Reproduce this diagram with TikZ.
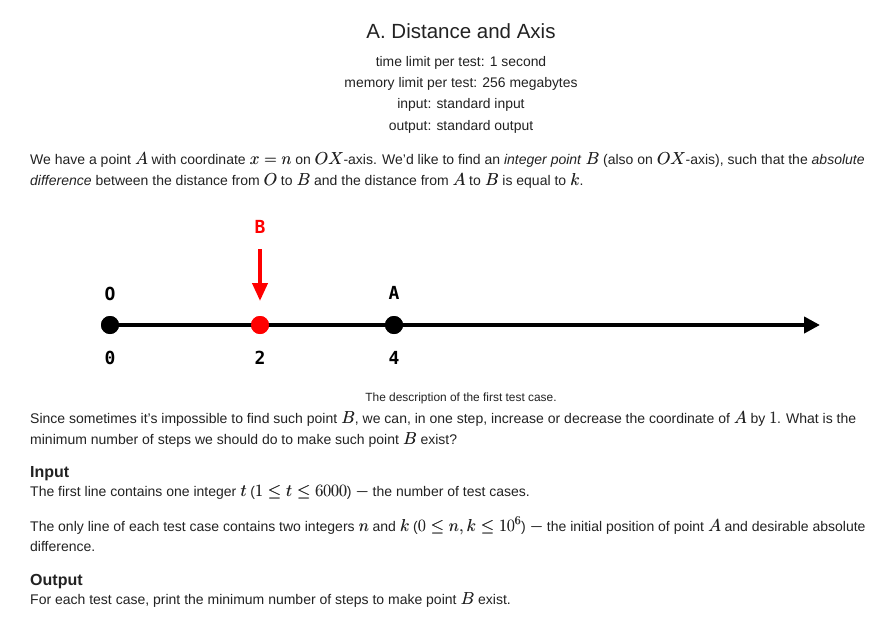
\documentclass[tikz,border=0pt]{standalone}
\usepackage{fontspec}
\setmainfont{Liberation Sans}
\newfontfamily\monob{DejaVu Sans Mono}
\usetikzlibrary{arrows.meta}
\DeclareMathSizes{14}{16.8}{12}{10}
\newcommand\mth[1]{\rlap{\kern0.45pt$#1$}$#1$}
\definecolor{txt}{HTML}{222222}
\definecolor{redpt}{HTML}{FF0000}
\tikzset{
  body/.style={anchor=base west, inner sep=0pt, font=\fontsize{14}{17}\selectfont, text=txt},
  hdr/.style={anchor=base, inner sep=0pt, font=\fontsize{13.9}{16}\selectfont, text=txt},
  ttl/.style={anchor=base, inner sep=0pt, font=\fontsize{20.5}{24}\selectfont, text=txt},
  sect/.style={anchor=base west, inner sep=0pt, font=\fontsize{16}{19}\selectfont\bfseries, text=txt},
  captxt/.style={anchor=base, inner sep=0pt, font=\fontsize{11.9}{13}\selectfont, text=txt},
  lbl/.style={inner sep=0pt, font=\fontsize{18}{20}\selectfont\monob\bfseries},
  ptdot/.style={circle, fill=black, minimum size=18pt, inner sep=0pt},
  axisline/.style={line width=4pt, -{Triangle[length=16pt,width=16pt]}},
  barrow/.style={line width=4pt, redpt, -{Triangle[length=18pt,width=15pt]}}
}
\begin{document}
\begin{tikzpicture}[x=1pt,y=-1pt]
\useasboundingbox[fill=white] (0,0) rectangle (882,623);
% header
\node[ttl] (title) at (461,39) {A. Distance and Axis};
\node[hdr] (h1) at (461,67) {time limit per test: 1 second};
\node[hdr] (h2) at (461,88) {memory limit per test: 256 megabytes};
\node[hdr] (h3) at (461,109) {input: standard input};
\node[hdr] (h4) at (461,130) {output: standard output};
% paragraph 1
\node[body] (p1a) at (30,164) {We have a point \mth{A} with coordinate \mth{x=n} on \mth{OX}-axis. We'd like to find an \textit{integer point} \mth{B} (also on \mth{OX}-axis), such that the \textit{absolute}};
\node[body] (p1b) at (30,185) {\textit{difference} between the distance from \mth{O} to \mth{B} and the distance from \mth{A} to \mth{B} is equal to \mth{k}.};
% diagram
\node[ptdot] (o) at (110,325) {};
\node[ptdot, fill=redpt] (b) at (260,325) {};
\node[ptdot] (a) at (394,325) {};
\coordinate (end) at (820,325);
\draw[axisline] (o.center) -- (end);
\node[ptdot] at (o) {};
\node[ptdot, fill=redpt] at (b) {};
\node[ptdot] at (a) {};
\node[lbl] (lo) at (110,294) {O};
\node[lbl] (la) at (394,293) {A};
\node[lbl, text=redpt] (lb) at (260,227) {B};
\node[lbl] (n0) at (110,358) {0};
\node[lbl] (n2) at (260,358) {2};
\node[lbl] (n4) at (394,358) {4};
\coordinate (bs) at (260,249);
\coordinate (be) at (260,301);
\draw[barrow] (bs) -- (be);
\node[captxt] (caption) at (461,401) {The description of the first test case.};
% paragraph 2
\node[body] (p2a) at (30,423) {Since sometimes it's impossible to find such point \mth{B}, we can, in one step, increase or decrease the coordinate of \mth{A} by \mth{1}. What is the};
\node[body] (p2b) at (30,444) {minimum number of steps we should do to make such point \mth{B} exist?};
\node[sect] (inp) at (30,477) {Input};
\node[body] (i1) at (30,496) {The first line contains one integer \mth{t} (\mth{1\le t\le 6000}) \mth{-} the number of test cases.};
\node[body] (i2) at (30,531) {The only line of each test case contains two integers \mth{n} and \mth{k} (\mth{0\le n,k\le 10^6}) \mth{-} the initial position of point \mth{A} and desirable absolute};
\node[body] (i3) at (30,551) {difference.};
\node[sect] (outp) at (30,585) {Output};
\node[body] (o1) at (30,604) {For each test case, print the minimum number of steps to make point \mth{B} exist.};
\end{tikzpicture}
\end{document}
